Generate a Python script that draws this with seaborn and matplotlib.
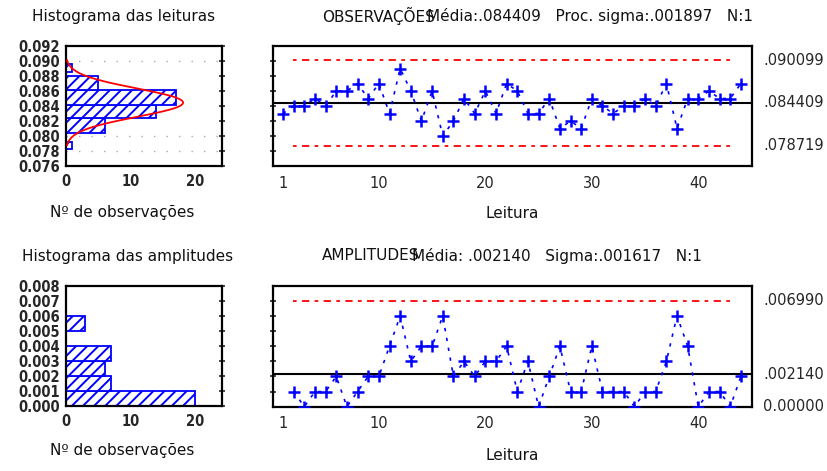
import numpy as np
import matplotlib
matplotlib.use("Agg")
import matplotlib.pyplot as plt
import seaborn as sns

sns.set_theme(style="white")
plt.rcParams['font.family'] = ['DejaVu Sans']
plt.rcParams['hatch.linewidth'] = 1.4

# ---------------- data ----------------
leitura_idx = list(range(1, 45))
leituras = [0.083, 0.084, 0.084, 0.085, 0.084, 0.086, 0.086, 0.087, 0.085, 0.087,
            0.083, 0.089, 0.086, 0.082, 0.086, 0.080, 0.082, 0.085, 0.083, 0.086,
            0.083, 0.087, 0.086, 0.083, 0.083, 0.085, 0.081, 0.082, 0.081, 0.085,
            0.084, 0.083, 0.084, 0.084, 0.085, 0.084, 0.087, 0.081, 0.085, 0.085,
            0.086, 0.085, 0.085, 0.087]
amp_idx = list(range(2, 45))
amplitudes = [0.001, 0.000, 0.001, 0.001, 0.002, 0.000, 0.001, 0.002, 0.002, 0.004,
              0.006, 0.003, 0.004, 0.004, 0.006, 0.002, 0.003, 0.002, 0.003, 0.003,
              0.004, 0.001, 0.003, 0.000, 0.002, 0.004, 0.001, 0.001, 0.004, 0.001,
              0.001, 0.001, 0.000, 0.001, 0.001, 0.003, 0.006, 0.004, 0.000, 0.001,
              0.001, 0.000, 0.002]

obs_media, obs_sigma = 0.084409, 0.001897
obs_lsc, obs_lic = 0.090099, 0.078719
amp_media, amp_sigma, amp_lsc = 0.002140, 0.001617, 0.006990

# histogram of readings (bin bottoms, bin tops, counts)
hl_bottom = [0.0782, 0.0803, 0.0823, 0.0841, 0.0861, 0.0885]
hl_top    = [0.0791, 0.0823, 0.0841, 0.0861, 0.0879, 0.0896]
hl_count  = [1, 6, 14, 17, 5, 1]
# histogram of ranges
ha_bottom = [0.000, 0.001, 0.002, 0.003, 0.005]
ha_top    = [0.001, 0.002, 0.003, 0.004, 0.006]
ha_count  = [20, 7, 6, 7, 3]
hist_binw = 0.00196

xtick_vals = [1, 10, 20, 30, 40]

W, H = 828, 471
fig = plt.figure(figsize=(W / 100, H / 100), dpi=100)
fig.patch.set_facecolor('white')

def box(x0, y0, x1, y1):
    return [x0 / W, 1 - y1 / H, (x1 - x0) / W, (y1 - y0) / H]

ax_h1 = fig.add_axes(box(65.7, 45.7, 221.7, 165.7))
ax_c1 = fig.add_axes(box(273, 46, 752, 166))
ax_h2 = fig.add_axes(box(65.7, 285.7, 221.7, 405.7))
ax_c2 = fig.add_axes(box(273, 285.7, 752, 406.7))

tickfont = dict(family=['DejaVu Sans'], fontsize=10.5, fontweight='bold', fontstretch='condensed')
txt = dict(fontsize=11, color='#111111')

def style_axes(ax):
    ax.set_facecolor('white')
    for s in ax.spines.values():
        s.set_visible(True)
        s.set_color('black')
        s.set_linewidth(1.6)
    ax.grid(False)

# ------------- histograms -------------
def draw_hist(ax, bottoms, tops, counts, ylim, yticks):
    style_axes(ax)
    heights = [t - b for b, t in zip(bottoms, tops)]
    ax.barh(bottoms, counts, height=heights, align='edge', color='white',
            edgecolor='blue', hatch='///', linewidth=1.3, zorder=2)
    ax.set_xlim(0, 24.1)
    ax.set_ylim(*ylim)
    ax.set_yticks(yticks)
    ax.set_yticklabels([f"{v:.3f}" for v in yticks], **tickfont)
    ax.set_xticks([0, 10, 20])
    ax.set_xticklabels(['0', '10', '20'], **tickfont)
    ax.tick_params(axis='y', which='both', left=False, right=True, direction='inout',
                   length=4, width=1.2, pad=2, labelleft=True)
    ax.tick_params(axis='x', length=0, pad=6)

yt1 = [0.076, 0.078, 0.080, 0.082, 0.084, 0.086, 0.088, 0.090, 0.092]
draw_hist(ax_h1, hl_bottom, hl_top, hl_count, (0.076, 0.092), yt1)
for gy in [0.078, 0.080, 0.090]:
    ax_h1.axhline(gy, color='#aaaaaa', lw=1.0, ls=(0, (1, 8)), zorder=1)
# fitted normal curve
yy = np.linspace(obs_lic, obs_lsc, 200)
xx = len(leituras) * hist_binw * np.exp(-0.5 * ((yy - obs_media) / obs_sigma) ** 2) / (obs_sigma * np.sqrt(2 * np.pi))
ax_h1.plot(xx, yy, color='red', lw=1.3, zorder=3)

yt2 = [0.000, 0.001, 0.002, 0.003, 0.004, 0.005, 0.006, 0.007, 0.008]
draw_hist(ax_h2, ha_bottom, ha_top, ha_count, (0.0, 0.008), yt2)

# ------------- control charts -------------
def draw_ctrl(ax, x, y, center, lines, ylim, yticks):
    style_axes(ax)
    ax.axhline(center, color='black', lw=1.5, zorder=2)
    for lv in lines:
        ax.hlines(lv, 1.95, 43.4, color='red', lw=1.3, linestyles=(0, (2, 3, 4, 3)), zorder=2)
    sns.lineplot(x=x, y=y, ax=ax, color='blue', lw=1.2, linestyle=(0, (2, 4)),
                 marker='+', markersize=9, markeredgewidth=1.8, markeredgecolor='blue',
                 markerfacecolor='blue', zorder=3, legend=False)
    ax.set_xlim(0.06, 45.04)
    ax.set_ylim(*ylim)
    ax.set_yticks(yticks)
    ax.set_yticklabels([])
    ax.set_xticks(xtick_vals)
    ax.set_xticklabels([str(v) for v in xtick_vals], fontsize=10.5)
    ax.tick_params(axis='x', length=0, pad=7)
    ax.tick_params(axis='y', left=True, direction='inout', length=4, width=1.2)
    ax.set_xlabel('')
    ax.set_ylabel('')

draw_ctrl(ax_c1, leitura_idx, leituras, obs_media, [obs_lsc, obs_lic], (0.076, 0.092),
          [0.078, 0.080, 0.082, 0.084, 0.086, 0.088, 0.090])
draw_ctrl(ax_c2, amp_idx, amplitudes, amp_media, [amp_lsc], (0.0, 0.008),
          [0.001, 0.002, 0.003, 0.004, 0.005, 0.006, 0.007])

# right-hand limit labels
for ax, vals, labs in [(ax_c1, [obs_lsc, obs_media, obs_lic], ['.090099', '.084409', '.078719']),
                       (ax_c2, [amp_lsc, amp_media, 0.0], ['.006990', '.002140', '0.00000'])]:
    for v, l in zip(vals, labs):
        ax.annotate(l, xy=(1, v), xycoords=('axes fraction', 'data'), xytext=(8, 0),
                    textcoords='offset points', va='center', ha='left', fontsize=10.5)

def ptext(x, y, s, **kw):
    fig.text(x / W, 1 - y / H, s, va='center', **kw)

ptext(32, 16, 'Histograma das leituras', ha='left', **txt)
ptext(50, 213, 'Nº de observações', ha='left', **txt)
ptext(22, 257, 'Histograma das amplitudes', ha='left', **txt)
ptext(50, 450, 'Nº de observações', ha='left', **txt)

ptext(322, 16, 'OBSERVAÇÕES', ha='left', **txt)
ptext(427, 16, 'Média:.084409   Proc. sigma:.001897   N:1', ha='left', **txt)
ptext(322, 256, 'AMPLITUDES', ha='left', **txt)
ptext(412, 256, 'Média: .002140   Sigma:.001617   N:1', ha='left', **txt)
ptext(512, 213, 'Leitura', ha='center', **txt)
ptext(512, 455, 'Leitura', ha='center', **txt)

fig.savefig('out.png', dpi=100, facecolor='white')
